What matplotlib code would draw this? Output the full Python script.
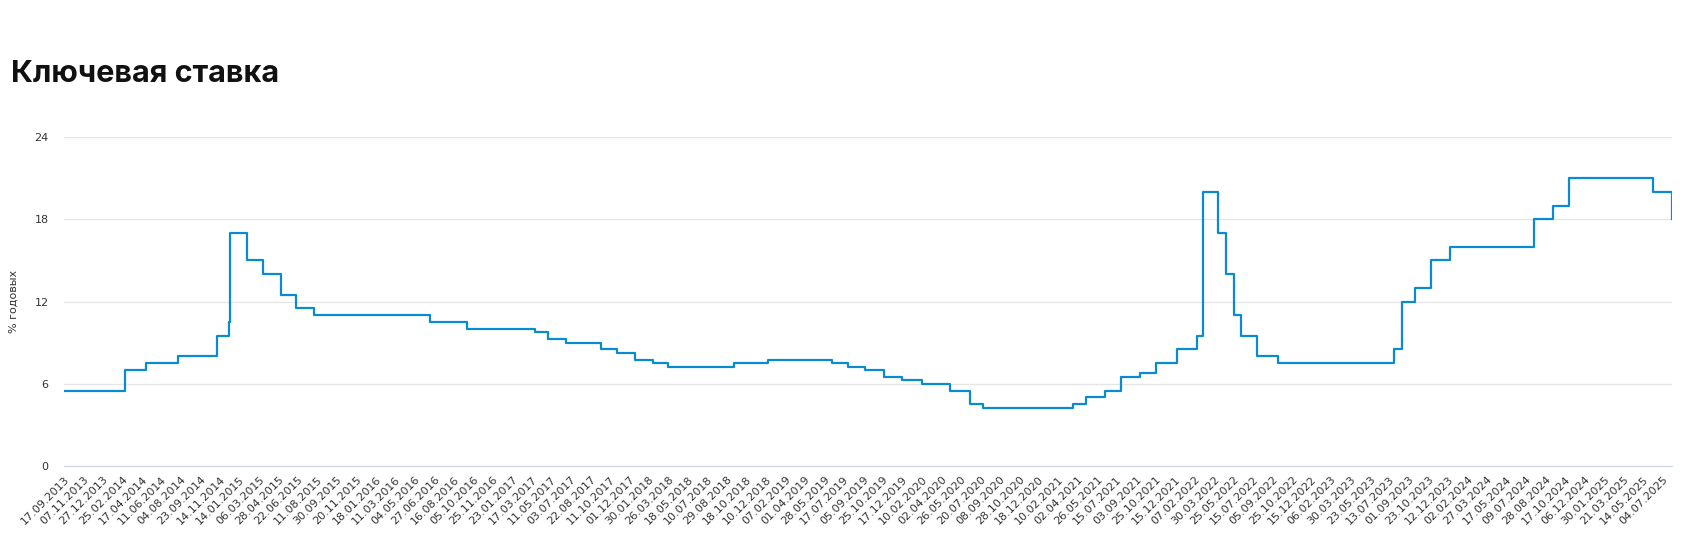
import numpy as np
import matplotlib.pyplot as plt
from datetime import date

# подписи оси X (даты), идут через равные интервалы по оси
tick_dates = [
    '17.09.2013', '07.11.2013', '27.12.2013',
    '25.02.2014', '17.04.2014', '11.06.2014', '04.08.2014', '23.09.2014', '14.11.2014',
    '14.01.2015', '06.03.2015', '28.04.2015', '22.06.2015', '11.08.2015', '30.09.2015', '20.11.2015',
    '18.01.2016', '11.03.2016', '04.05.2016', '27.06.2016', '16.08.2016', '05.10.2016', '25.11.2016',
    '23.01.2017', '17.03.2017', '11.05.2017', '03.07.2017', '22.08.2017', '11.10.2017', '01.12.2017',
    '30.01.2018', '26.03.2018', '18.05.2018', '10.07.2018', '29.08.2018', '18.10.2018', '10.12.2018',
    '07.02.2019', '01.04.2019', '28.05.2019', '17.07.2019', '05.09.2019', '25.10.2019', '17.12.2019',
    '10.02.2020', '02.04.2020', '26.05.2020', '20.07.2020', '08.09.2020', '28.10.2020', '18.12.2020',
    '10.02.2021', '02.04.2021', '26.05.2021', '15.07.2021', '03.09.2021', '25.10.2021', '15.12.2021',
    '07.02.2022', '30.03.2022', '25.05.2022', '15.07.2022', '05.09.2022', '25.10.2022', '15.12.2022',
    '06.02.2023', '30.03.2023', '23.05.2023', '13.07.2023', '01.09.2023', '23.10.2023', '12.12.2023',
    '02.02.2024', '27.03.2024', '17.05.2024', '09.07.2024', '28.08.2024', '17.10.2024', '06.12.2024',
    '30.01.2025', '21.03.2025', '14.05.2025', '04.07.2025',
]

# даты изменения ключевой ставки и её значения, % годовых
change_dates = [
    '17.09.2013', '03.03.2014', '28.04.2014', '28.07.2014', '05.11.2014', '12.12.2014',
    '16.12.2014', '02.02.2015', '16.03.2015', '05.05.2015', '16.06.2015', '03.08.2015',
    '14.06.2016', '19.09.2016', '27.03.2017', '02.05.2017', '19.06.2017', '18.09.2017',
    '30.10.2017', '18.12.2017', '12.02.2018', '26.03.2018', '17.09.2018', '17.12.2018',
    '17.06.2019', '29.07.2019', '09.09.2019', '28.10.2019', '16.12.2019', '10.02.2020',
    '27.04.2020', '22.06.2020', '27.07.2020', '22.03.2021', '26.04.2021', '15.06.2021',
    '26.07.2021', '13.09.2021', '25.10.2021', '20.12.2021', '14.02.2022', '28.02.2022',
    '11.04.2022', '04.05.2022', '27.05.2022', '14.06.2022', '25.07.2022', '19.09.2022',
    '24.07.2023', '15.08.2023', '18.09.2023', '30.10.2023', '18.12.2023', '29.07.2024',
    '16.09.2024', '28.10.2024', '09.06.2025', '28.07.2025',
]
rates = [
    5.5, 7.0, 7.5, 8.0, 9.5, 10.5,
    17.0, 15.0, 14.0, 12.5, 11.5, 11.0,
    10.5, 10.0, 9.75, 9.25, 9.0, 8.5,
    8.25, 7.75, 7.5, 7.25, 7.5, 7.75,
    7.5, 7.25, 7.0, 6.5, 6.25, 6.0,
    5.5, 4.5, 4.25, 4.5, 5.0, 5.5,
    6.5, 6.75, 7.5, 8.5, 9.5, 20.0,
    17.0, 14.0, 11.0, 9.5, 8.0, 7.5,
    8.5, 12.0, 13.0, 15.0, 16.0, 18.0,
    19.0, 21.0, 20.0, 18.0,
]
end_date = '29.07.2025'
y_ticks = [0, 6, 12, 18, 24]


def to_ord(s):
    dd, mm, yy = map(int, s.split('.'))
    return date(yy, mm, dd).toordinal()


tick_ord = np.array([to_ord(s) for s in tick_dates])
tick_pos = np.arange(len(tick_dates))


def pos(s):
    o = to_ord(s)
    if o <= tick_ord[-1]:
        return np.interp(o, tick_ord, tick_pos)
    return tick_pos[-1] + (o - tick_ord[-1]) / (tick_ord[-1] - tick_ord[-2])


x = [pos(s) for s in change_dates] + [pos(end_date)]
y = rates + [rates[-1]]

fig = plt.figure(figsize=(17.01, 5.51), dpi=100)
ax = fig.add_axes([64 / 1701, 85 / 551, 1608 / 1701, 329 / 551])

ax.plot(x, y, drawstyle='steps-post', color='#0a8ad0', lw=1.6, zorder=3)

ax.set_xlim(0, x[-1])
ax.set_ylim(0, 24)
ax.set_yticks(y_ticks)
ax.set_yticklabels([str(v) for v in y_ticks])
ax.set_xticks(tick_pos)
ax.set_xticklabels(tick_dates, rotation=45, ha='right', rotation_mode='anchor')

ax.grid(axis='y', color='#e6e6e6', lw=1)
ax.set_axisbelow(True)
for sp in ['top', 'right', 'left']:
    ax.spines[sp].set_visible(False)
ax.spines['bottom'].set_color('#ccd6eb')
ax.tick_params(axis='y', length=0, pad=11, labelsize=8, labelcolor='#333333')
ax.tick_params(axis='x', length=0, pad=6, labelsize=8, labelcolor='#333333')

ax.set_ylabel('% годовых', fontsize=8, color='#333333')
ax.yaxis.set_label_coords(-45 / 1608, 0.5)

fig.text(11 / 1701, 1 - 74 / 551, 'Ключевая ставка', fontsize=22, fontweight='bold',
         color='#111111', va='center', ha='left', family=['Inter', 'DejaVu Sans'])

fig.savefig('out.png', dpi=100)
